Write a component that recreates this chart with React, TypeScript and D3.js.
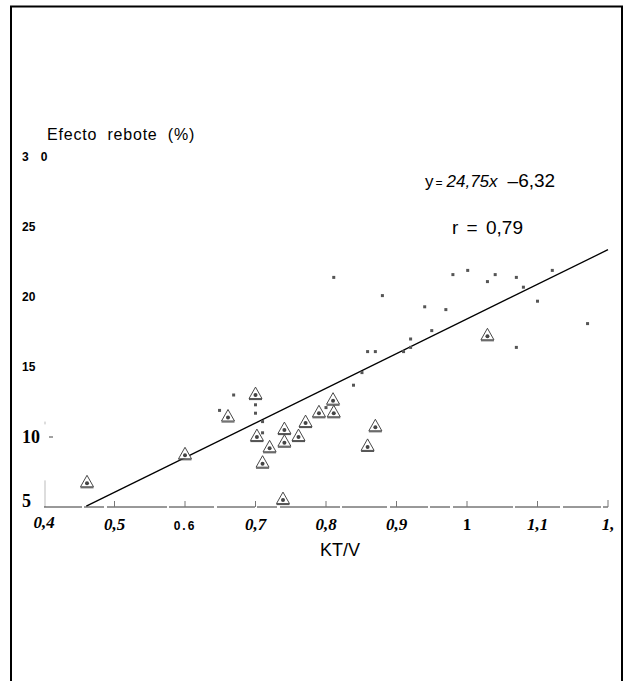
import { scaleLinear, line } from "d3";

// KT/V vs efecto rebote (%)
const squareX = [0.669, 0.7, 0.7, 0.71, 0.71, 0.649, 0.8, 0.839, 0.851, 0.859, 0.87, 0.91, 0.92, 0.92, 0.811, 0.88, 0.95, 0.94, 0.97, 0.98, 1.001, 1.029, 1.04, 1.07, 1.08, 1.1, 1.121, 1.171, 1.07];
const squareY = [13.0, 12.3, 11.7, 11.1, 10.3, 11.9, 12.1, 13.7, 14.6, 16.1, 16.1, 16.1, 16.4, 17.0, 21.4, 20.1, 17.6, 19.3, 19.1, 21.6, 21.9, 21.1, 21.6, 21.4, 20.7, 19.7, 21.9, 18.1, 16.4];

const triX = [0.7, 0.661, 0.702, 0.741, 0.741, 0.72, 0.71, 0.761, 0.771, 0.79, 0.81, 0.811, 0.87, 0.859, 0.461, 0.6, 0.739, 1.029];
const triY = [13.1, 11.5, 10.1, 10.6, 9.7, 9.3, 8.2, 10.1, 11.1, 11.8, 12.7, 11.8, 10.8, 9.4, 6.8, 8.8, 5.6, 17.3];

const yTicks = [30, 25, 20, 15, 10, 5];
const yTickLabels = ["3 0", "25", "20", "15", "10", "5"];
const xTicks = [0.4, 0.5, 0.6, 0.7, 0.8, 0.9, 1.0, 1.1, 1.2];
const xTickLabels = ["0,4", "0,5", "0.6", "0,7", "0,8", "0,9", "1", "1,1", "1,"];

const slope = 24.75;
const intercept = -6.32;
const fitFrom = 0.46;
const fitTo = 1.2;

const sans = "Liberation Sans, Arial, sans-serif";
const serif = "Liberation Serif, Times New Roman, serif";

const App = () => {
  const width = 629;
  const height = 681;

  const x = scaleLinear().domain([0.4, 1.2]).range([44, 608]);
  const y = scaleLinear().domain([5, 30]).range([507, 157]);

  const fit = line<number>()
    .x(d => x(d))
    .y(d => y(slope * d + intercept));

  const squares = squareX.map((v, i) => ({ x: v, y: squareY[i] }));
  const triangles = triX.map((v, i) => ({ x: v, y: triY[i] }));

  return (
    <svg width={width} height={height} style={{ position: "absolute", left: 0, top: 0 }}>
      <rect x={0} y={0} width={width} height={height} fill="white" />
      {/* frame */}
      <path d={`M11,${height + 5} V6.5 H622 V${height + 5}`} fill="none" stroke="black" strokeWidth={2} />

      <text x={47} y={140} fontFamily={sans} fontSize={16} letterSpacing={0.8} wordSpacing={5}>
        Efecto rebote (%)
      </text>

      {/* y axis (faint) */}
      <line x1={45} x2={45} y1={y(6.9)} y2={y(5)} stroke="#bbb" strokeWidth={1} />
      <line x1={45} x2={45} y1={y(11.1)} y2={y(10.9)} stroke="#bbb" strokeWidth={1} />
      <line x1={49} x2={53} y1={y(10)} y2={y(10)} stroke="#444" strokeWidth={1} />
      {yTicks.map((t, i) => {
        const big = t === 5 || t === 10;
        const parts = yTickLabels[i].split(" ");
        return (
          <text
            key={t}
            x={22}
            y={y(t)}
            dy={t === 5 ? "0" : "0.35em"}
            fontFamily={big ? serif : sans}
            fontWeight="bold"
            fontSize={big ? 18 : 12}
          >
            {parts.map((p, j) => (
              <tspan key={j} dx={j > 0 ? 12 : 0}>{p}</tspan>
            ))}
          </text>
        );
      })}

      {/* x axis */}
      <line x1={x(0.4)} x2={x(1.2)} y1={507} y2={507} stroke="#333" strokeWidth={1} strokeDasharray="38 2 20 3 60 2 45 3" />
      {xTicks.slice(1).map(t => (
        <line key={t} x1={x(t)} x2={x(t)} y1={507} y2={t === 1.2 ? 500 : 501} stroke="#777" strokeWidth={1} />
      ))}
      {xTicks.map((t, i) => (
        <text
          key={t}
          x={x(t)}
          y={i === 0 ? 528 : 530}
          textAnchor="middle"
          fontFamily={t === 0.6 ? sans : serif}
          fontWeight="bold"
          fontStyle={t === 0.6 || t === 1.0 ? "normal" : "italic"}
          fontSize={t === 0.6 ? 12 : 17}
          letterSpacing={t === 0.6 ? 2 : 0}
        >
          {xTickLabels[i]}
        </text>
      ))}
      <text x={340} y={556} textAnchor="middle" fontFamily={sans} fontSize={18}>
        KT/V
      </text>

      {/* regression line */}
      <path d={fit([fitFrom, fitTo]) ?? ""} fill="none" stroke="black" strokeWidth={1.3} />

      {/* points */}
      {squares.map((d, i) => (
        <rect key={"s" + i} x={x(d.x) - 1.5} y={y(d.y) - 1.5} width={3} height={3} fill="#555" />
      ))}
      {triangles.map((d, i) => {
        const cx = x(d.x);
        const cy = y(d.y);
        return (
          <g key={"t" + i} transform={`translate(${cx},${cy})`}>
            <path d="M0,-6.5 L6.5,5 L-6.5,5 Z" fill="white" stroke="#333" strokeWidth={0.9} />
            <line x1={-6.5} x2={6.5} y1={6} y2={6} stroke="#444" strokeWidth={1} />
            <circle cx={0} cy={1.5} r={2} fill="#444" />
          </g>
        );
      })}

      {/* equation */}
      <text x={425} y={187} fontFamily={sans} fontSize={19}>
        <tspan fontSize={17}>y</tspan>
        <tspan fontSize={12} dx={2}>=</tspan>
        <tspan fontStyle="italic" fontSize={17} dx={4}>24,75x</tspan>
        <tspan dx={10}>–6,32</tspan>
      </text>
      <text x={452} y={234} fontFamily={sans} fontSize={19} wordSpacing={3}>
        r = 0,79
      </text>
    </svg>
  );
};

export default App;
